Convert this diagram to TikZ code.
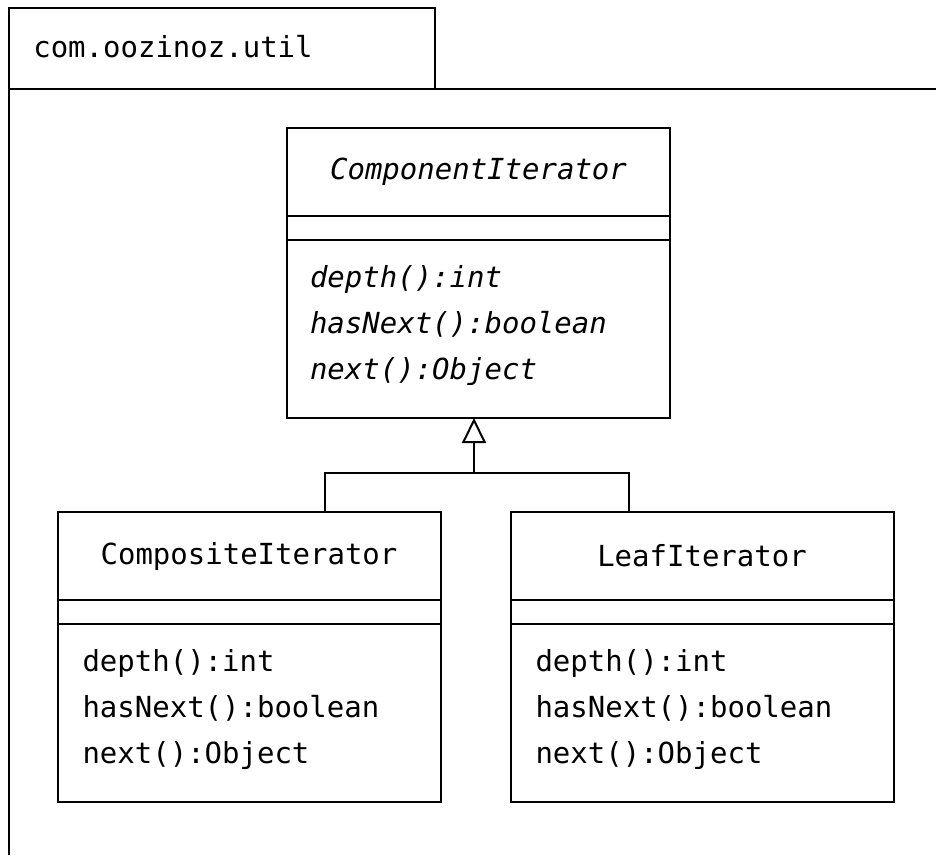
\documentclass[tikz,border=0pt]{standalone}
\usepackage{fontspec}
\setmonofont{DejaVu Sans Mono}
\usetikzlibrary{arrows.meta, positioning}

\begin{document}
\begin{tikzpicture}[
            x=1pt, y=-1pt,
            every node/.style={font=\ttfamily\fontsize{29}{46}\selectfont, outer sep=0pt},
            umlname/.style={draw, line width=2pt, minimum width=383pt, minimum height=88pt, inner sep=0pt},
            umlblank/.style={draw, line width=2pt, minimum width=383pt, minimum height=24pt, inner sep=0pt},
            umlops/.style={draw, line width=2pt, minimum width=383pt, minimum height=178pt, inner sep=0pt},
            opstext/.style={align=left, inner sep=0pt, anchor=north west},
            pkg/.style={draw, line width=2pt, minimum width=426pt, minimum height=81pt, inner sep=0pt},
            line/.style={line width=2pt},
            inherit/.style={line width=2pt, -{Triangle[open, width=24pt, length=25pt]}}
        ]
            \useasboundingbox (0,0) rectangle (936,855);

            % package
            \node[pkg] (tab) at (222,48.5) {};
            \node[anchor=west] (pkgname) at (30,47) {com.oozinoz.util};
            \draw[line] (9,855) -- (tab.south west) -- (936,89);

            % abstract class
            \node[umlname] (ciname) at (478.5,172) {\itshape ComponentIterator};
            \node[umlblank, below=0pt of ciname] (ciattr) {};
            \node[umlops, below=0pt of ciattr] (ciops) {};
            \node[opstext, below right=25pt and 23pt of ciops.north west] (citext)
                {\itshape depth():int\\\itshape hasNext():boolean\\\itshape next():Object};

            % subclasses
            \node[umlname] (cpname) at (249,556) {CompositeIterator};
            \node[umlblank, below=0pt of cpname] (cpattr) {};
            \node[umlops, below=0pt of cpattr] (cpops) {};
            \node[opstext, below right=25pt and 25pt of cpops.north west] (cptext)
                {depth():int\\hasNext():boolean\\next():Object};

            \node[umlname] (lfname) at (702,556) {LeafIterator};
            \node[umlblank, below=0pt of lfname] (lfattr) {};
            \node[umlops, below=0pt of lfattr] (lfops) {};
            \node[opstext, below right=25pt and 25pt of lfops.north west] (lftext)
                {depth():int\\hasNext():boolean\\next():Object};

            % generalization
            \coordinate (split) at (474,473);
            \coordinate (cpjoin) at (325,512);
            \coordinate (lfjoin) at (629,512);
            \draw[line] (cpjoin) |- (split) -| (lfjoin);
            \draw[inherit] (split) -- (ciops.south -| split);
        \end{tikzpicture}
\end{document}
